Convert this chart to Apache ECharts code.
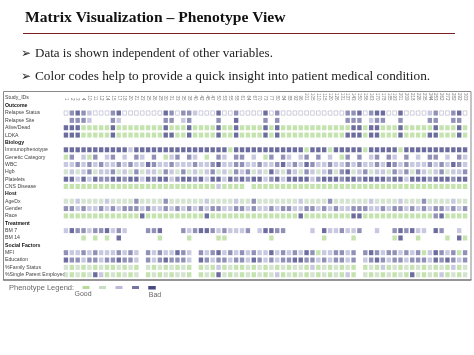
<!DOCTYPE html>
<html><head><meta charset="utf-8">
<script src="https://cdn.jsdelivr.net/npm/echarts@6/dist/echarts.min.js"></script>
<style>html,body{margin:0;padding:0;background:#fff}#c{width:474px;height:355px}</style>
</head><body><div id="c"></div>
<script>
const rowLabels = ['Outcome','Relapse Status','Relapse Site','Alive/Dead','LDKA','Biology','Immunophenotype','Genetic Category','WBC','Hgb','Platelets','CNS Disease','Host','AgeDx','Gender','Race','Treatment','BM 7','BM 14','Social Factors','MFI','Education','%Family Status','%Single Parent Employed'];
const sectionRows = ['Outcome','Biology','Host','Treatment','Social Factors'];
const studyIds = [1,2,3,4,10,11,12,14,15,17,18,20,21,23,25,26,28,30,31,33,35,38,40,42,45,47,50,53,55,58,61,64,67,70,73,77,80,84,88,92,96,101,105,110,115,120,126,131,137,143,150,156,163,170,178,185,193,201,209,218,226,235,244,253,262,272,282,292,303];
const legendLevels = ['1','2','3','4','5'];
// codes: 1=good ... 5=bad, o=none (outlined), .=missing
const relapseStatus   = "o4543ooo45 ooooooo54o 443ooo5oo4 oooo5o4ooo oooooooo44 5o455oo5oo oo34oo45o";
const relapseSite     = ".4443...43 .......44. 34....4..5 ....4.4... ........44 4.344..4.. ..44..44.";
const aliveDead       = "5551111151 1111111511 1511115115 1111515111 1111111115 5155111511 111511151";
const ldka            = "5551111151 1111111551 1511115115 1111515111 1111111155 5155111511 115511151";
const immunophenotype = "5555555555 5355555555 5555555515 5555555555 5155515555 5155555155 555555555";
const geneticCategory = "14.314.34. 3.43.4.134 .43.1.43.4 4.3.14.43. 34.4.3.14. 4.34.43.4. 3.44.3.43";
const wbc             = "3343434334 3433543343 3343345334 4334334534 3543343343 4334354343 334343543";
const hgb             = "2323423342 3242332432 4232342324 3423253243 2432342452 3423324342 432342334";
const platelets       = "5535354455 4553545534 5545355354 5455345355 5534555455 4555545535 554555455";
const cnsDisease      = "1111111111 1111111111 1111113111 1.11111111 1111111111 1111111111 111111111";
const ageDx           = "2232222322 2242222422 2222322223 2242222222 3222242222 2232222322 242222322";
const gender          = "4434334343 4443433434 3434344334 4343343443 3443434334 4433434434 343443434";
const race            = "1111111111 1115111111 1111511111 1111111111 5111111115 5111111111 111451111";
const bm7             = "3544344534 3...445... 4345543433 34.35544.. ..3.533433 4..3..4545 33.54..3.";
const bm14            = "...1.1.1.5 ......1... .1....11.. .....1.... ....1....1 ......15.. 1....1.51";
const mfi             = "4334343334 343.434335 43.4345343 4343353434 3541334434 .454344343 413543414";
const education       = "5443443445 443.434544 43.5434434 4354343445 5443434434 .345434434 443545434";
const familyStatus    = "2121212112 121.212121 21.1213121 1212121212 2131212121 .121312121 212121312";
const singleParentEmp = "2121253121 212.121212 21.1215212 1212123121 2121212131 .212121215 212131212";

const rowCodes = {
  'Relapse Status': relapseStatus, 'Relapse Site': relapseSite, 'Alive/Dead': aliveDead, 'LDKA': ldka,
  'Immunophenotype': immunophenotype, 'Genetic Category': geneticCategory, 'WBC': wbc, 'Hgb': hgb,
  'Platelets': platelets, 'CNS Disease': cnsDisease, 'AgeDx': ageDx, 'Gender': gender, 'Race': race,
  'BM 7': bm7, 'BM 14': bm14, 'MFI': mfi, 'Education': education, '%Family Status': familyStatus,
  '%Single Parent Employed': singleParentEmp
};
const palette = {'1':'#b6dc9a','2':'#c9ddc6','3':'#babad8','4':'#7676a6','5':'#474786'};

const data = [];
rowLabels.forEach((lab, r) => {
  const s = rowCodes[lab];
  if (!s) return;
  const codes = s.replace(/ /g, '');
  for (let c = 0; c < studyIds.length && c < codes.length; c++) {
    const k = codes[c];
    if (k === '.') continue;
    if (k === 'o') {
      data.push({value:[c, r], symbolSize:[3.7, 4.3], itemStyle:{color:'#fff', borderColor:'#a9a9c2', borderWidth:0.7}});
    } else {
      data.push({value:[c, r], itemStyle:{color:palette[k]}});
    }
  }
});

const sansF = '"Liberation Sans", Arial, sans-serif';
const serifF = '"Liberation Serif", "Times New Roman", serif';
const legendX = [86, 102.5, 119, 135.5, 152];
const mid = {textVerticalAlign:'middle', verticalAlign:'middle'};
const graphic = [
  {type:'text', style:Object.assign({x:25, y:17.5, text:'Matrix Visualization \u2013 Phenotype View', font:'bold 15.6px ' + serifF, fill:'#111'}, mid)},
  {type:'line', shape:{x1:23, y1:33.5, x2:455, y2:33.5}, style:{stroke:'#7a2020', lineWidth:1}},
  {type:'text', style:Object.assign({x:21, y:54, text:'\u27A2', font:'12px "DejaVu Sans", sans-serif', fill:'#222'}, mid)},
  {type:'text', style:Object.assign({x:35, y:54, text:'Data is shown independent of other variables.', font:'13px ' + serifF, fill:'#222'}, mid)},
  {type:'text', style:Object.assign({x:21, y:77, text:'\u27A2', font:'12px "DejaVu Sans", sans-serif', fill:'#222'}, mid)},
  {type:'text', style:Object.assign({x:35, y:77, text:'Color codes help to provide a quick insight into patient medical condition.', font:'13.3px ' + serifF, fill:'#222'}, mid)},
  {type:'rect', shape:{x:3.5, y:91.5, width:467.5, height:188.5}, style:{fill:'none', stroke:'#8a8a8a', lineWidth:1}},
  {type:'line', shape:{x1:3, y1:280, x2:471.5, y2:280}, style:{stroke:'#666', lineWidth:1.2}},
  {type:'text', style:Object.assign({x:5, y:97.5, text:'Study_IDs', font:'5.2px ' + sansF, fill:'#444'}, mid)},
  {type:'text', style:Object.assign({x:9, y:288, text:'Phenotype Legend:', font:'7.5px ' + sansF, fill:'#666'}, mid)},
  {type:'text', style:Object.assign({x:83, y:294, text:'Good', font:'7px ' + sansF, fill:'#666', textAlign:'center', align:'center'}, mid)},
  {type:'text', style:Object.assign({x:155, y:295, text:'Bad', font:'7px ' + sansF, fill:'#666', textAlign:'center', align:'center'}, mid)}
];
legendLevels.forEach((k, i) => {
  const w = i === 4 ? 7.5 : 7, h = i === 4 ? 3.5 : 3;
  graphic.push({type:'rect', shape:{x:legendX[i] - w/2, y:286, width:w, height:h}, style:{fill:palette[k]}});
});

const chart = echarts.init(document.getElementById('c'), null, {renderer:'canvas'});
chart.setOption({
  animation:false,
  backgroundColor:'#fff',
  grid:{left:63, top:102, width:405, height:176.4, containLabel:false},
  xAxis:{type:'category', position:'top', data:studyIds.map(String), boundaryGap:true,
    axisLine:{show:false}, axisTick:{show:false}, splitLine:{show:false},
    axisLabel:{interval:0, rotate:90, fontSize:4.5, margin:1.5, color:'#777', fontFamily:sansF}},
  yAxis:{type:'category', inverse:true, data:rowLabels, boundaryGap:true,
    axisLine:{show:false}, axisTick:{show:false}, splitLine:{show:false},
    axisLabel:{interval:0, align:'left', margin:58, fontSize:5.2, color:'#444', fontFamily:sansF,
      formatter:v => sectionRows.includes(v) ? '{b|' + v + '}' : v,
      rich:{b:{fontSize:5.2, fontWeight:'bold', color:'#111', fontFamily:sansF}}}},
  series:[{type:'scatter', symbol:'rect', symbolSize:[4.4, 5], data:data, silent:true}],
  graphic:graphic
});
</script></body></html>
